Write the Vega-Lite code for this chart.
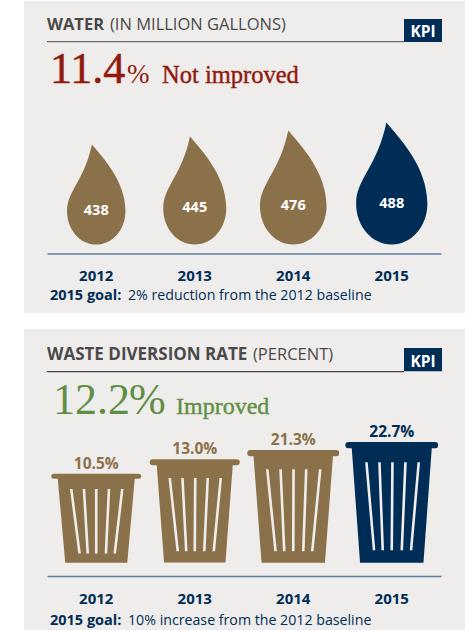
{"$schema":"https://vega.github.io/schema/vega-lite/v6.json","background":"#ffffff","padding":{"left":24,"top":1,"right":0,"bottom":0},"spacing":16,"config":{"view":{"stroke":null},"text":{"font":"Open Sans"}},"vconcat":[
{"width":441,"height":312,"view":{"fill":"#efedeb","stroke":null},"layer":[
{"data":{"values":[{"year":"2012","value":438},{"year":"2013","value":445},{"year":"2014","value":476},{"year":"2015","value":488}]},"layer":[
{"mark":{"type":"point","filled":true,"opacity":1,"shape":"M-.044 -.664C.07 -.53 .29 -.3 .292 0C.292 .19 .16 .336 0 .336C-.16 .336 -.292 .19 -.292 0C-.292 -.2 -.12 -.3 -.044 -.664Z"},"encoding":{
"x":{"field":"year","type":"nominal","scale":{"type":"band","domain":["2012","2013","2014","2015"],"range":[23,417]},"axis":{"title":null,"orient":"bottom","offset":-59.5,"ticks":false,"domainColor":"#5d7d9f","domainWidth":1.3,"labelAngle":0,"labelFont":"Open Sans","labelFontWeight":"bold","labelFontSize":15,"labelColor":"#002d56","labelPadding":15}},
"y":{"field":"value","type":"quantitative","scale":{"domain":[438,445,476,488],"range":[210,207.3,205.2,202.5],"zero":false,"nice":false},"axis":null},
"size":{"field":"value","type":"quantitative","scale":{"domain":[438,445,476,488],"range":[40000,46656,51984,59536],"zero":false,"nice":false},"legend":null},
"color":{"field":"year","type":"nominal","scale":{"domain":["2012","2013","2014","2015"],"range":["#8b7149","#8b7149","#8b7149","#002d56"]},"legend":null}}},
{"mark":{"type":"text","font":"Open Sans","fontWeight":"bold","fontSize":14.5,"fill":"#ffffff","baseline":"middle"},"encoding":{"x":{"field":"year","type":"nominal"},"y":{"field":"value","type":"quantitative"},"text":{"field":"value","type":"nominal"}}}
]},
{"data":{"values":[{"t":"x"}]},"mark":{"type":"rule","color":"#6b6b6b","strokeWidth":1.2},"encoding":{"x":{"value":23},"x2":{"value":380},"y":{"value":40.7}}},
{"data":{"values":[{"t":"x"}]},"mark":{"type":"rect","color":"#002d56"},"encoding":{"x":{"value":380},"x2":{"value":418},"y":{"value":18},"y2":{"value":41}}},
{"data":{"values":[{"t":"KPI"}]},"mark":{"type":"text","font":"Open Sans","fontWeight":"bold","fontSize":15.5,"fill":"#ffffff","align":"center","baseline":"alphabetic"},"encoding":{"x":{"value":399},"y":{"value":35.7},"text":{"field":"t"}}},
{"data":{"values":[{"t":"WATER"}]},"mark":{"type":"text","font":"Open Sans","fontWeight":"bold","fontSize":16.5,"fill":"#4a4a4a","align":"left","baseline":"alphabetic"},"encoding":{"x":{"value":23},"y":{"value":29},"text":{"field":"t"}}},
{"data":{"values":[{"t":"(IN MILLION GALLONS)"}]},"mark":{"type":"text","font":"Open Sans","fontSize":16.5,"fill":"#4a4a4a","align":"left","baseline":"alphabetic"},"encoding":{"x":{"value":86},"y":{"value":29},"text":{"field":"t"}}},
{"data":{"values":[{"t":"11.4"}]},"mark":{"type":"text","font":"Liberation Serif","fontSize":44,"fill":"#8f1a0e","stroke":"#8f1a0e","strokeWidth":0.5,"align":"left","baseline":"alphabetic"},"encoding":{"x":{"value":26},"y":{"value":82},"text":{"field":"t"}}},
{"data":{"values":[{"t":"%"}]},"mark":{"type":"text","font":"Liberation Serif","fontSize":27,"fill":"#8f1a0e","align":"left","baseline":"alphabetic"},"encoding":{"x":{"value":103},"y":{"value":82},"text":{"field":"t"}}},
{"data":{"values":[{"t":"Not improved"}]},"mark":{"type":"text","font":"Liberation Serif","fontSize":24.5,"fill":"#8f1a0e","stroke":"#8f1a0e","strokeWidth":0.4,"align":"left","baseline":"alphabetic"},"encoding":{"x":{"value":138},"y":{"value":82},"text":{"field":"t"}}},
{"data":{"values":[{"t":"2015 goal:"}]},"mark":{"type":"text","font":"Open Sans","fontWeight":"bold","fontSize":14.5,"fill":"#002d56","align":"left","baseline":"alphabetic"},"encoding":{"x":{"value":26},"y":{"value":299},"text":{"field":"t"}}},
{"data":{"values":[{"t":"2% reduction from the 2012 baseline"}]},"mark":{"type":"text","font":"Open Sans","fontSize":14.2,"fill":"#002d56","align":"left","baseline":"alphabetic"},"encoding":{"x":{"value":104},"y":{"value":299},"text":{"field":"t"}}}
]},
{"width":441,"height":301,"view":{"fill":"#efedeb","stroke":null},"layer":[
{"data":{"values":[{"year":"2012","value":10.5,"label":"10.5%"},{"year":"2013","value":13.0,"label":"13.0%"},{"year":"2014","value":21.3,"label":"21.3%"},{"year":"2015","value":22.7,"label":"22.7%"}]},"layer":[
{"mark":{"type":"point","filled":true,"opacity":1,"size":4},"encoding":{
"x":{"field":"year","type":"nominal","scale":{"type":"band","domain":["2012","2013","2014","2015"],"range":[23,417]},"axis":{"title":null,"orient":"bottom","offset":-54,"ticks":false,"domainColor":"#5d7d9f","domainWidth":1.3,"labelAngle":0,"labelFont":"Open Sans","labelFontWeight":"bold","labelFontSize":15,"labelColor":"#002d56","labelPadding":15}},
"y":{"field":"value","type":"quantitative","scale":{"domain":[10.5,13,21.3,22.7],"range":[144.7,130.3,121,113],"zero":false,"nice":false},"axis":null},
"shape":{"field":"year","type":"nominal","scale":{"domain":["2012","2013","2014","2015"],"range":[
"M-42 0H42Q45 0 45 2.5Q45 5 42 5H38.5L31 89H-31L-38.5 5H-42Q-45 5 -45 2.5Q-45 0 -42 0ZM-26.3 15.3L-18 79.7H-15.4L-23.7 15.3ZM-13.6 15.3L-9.8 79.7H-7.2L-11 15.3ZM-1.3 15.3L-1.3 79.7H1.3L1.3 15.3ZM11.4 15.3L8.4 79.7H11L14 15.3ZM24.7 15.3L17.2 79.7H19.8L27.3 15.3Z",
"M-42 0H42Q45 0 45 3Q45 6 42 6H38L30.7 103.3H-30.7L-38 6H-42Q-45 6 -45 3Q-45 0 -42 0ZM-26.3 18.7L-18.3 92H-15.7L-23.7 18.7ZM-13.6 18.7L-9.8 92H-7.2L-11 18.7ZM-.8 18.7L-1.3 92H1.3L1.8 18.7ZM11.7 18.7L8.2 92H10.8L14.3 18.7ZM24.7 18.7L17.7 92H20.3L27.3 18.7Z",
"M-43 0H43Q46 0 46 3.1Q46 6.3 43 6.3H39.7L31.7 112.7H-31.7L-39.7 6.3H-43Q-46 6.3 -46 3.1Q-46 0 -43 0ZM-27.3 19.3L-19 101.3H-16.4L-24.7 19.3ZM-14 19.3L-10.3 101.3H-7.7L-11.4 19.3ZM-1 19.3L-1.3 101.3H1.3L1.6 19.3ZM11.7 19.3L8.7 101.3H11.3L14.3 19.3ZM25.7 19.3L17.7 101.3H20.3L28.3 19.3Z",
"M-43.4 0H43.4Q46.4 0 46.4 3.1Q46.4 6.3 43.4 6.3H40L31.7 120.7H-31.7L-40 6.3H-43.4Q-46.4 6.3 -46.4 3.1Q-46.4 0 -43.4 0ZM-26.6 20.3L-19 108.3H-16.4L-24 20.3ZM-13.6 20.3L-10.3 108.3H-7.7L-11 20.3ZM-.6 20.3L-1.3 108.3H1.3L2 20.3ZM12.4 20.3L8.7 108.3H11.3L15 20.3ZM25.7 20.3L18 108.3H20.6L28.3 20.3Z"
]},"legend":null},
"color":{"field":"year","type":"nominal","scale":{"domain":["2012","2013","2014","2015"],"range":["#8b7149","#8b7149","#8b7149","#002d56"]},"legend":null}}},
{"mark":{"type":"text","font":"Open Sans","fontWeight":"bold","fontSize":15.5,"baseline":"middle","dy":-10},"encoding":{"x":{"field":"year","type":"nominal"},"y":{"field":"value","type":"quantitative"},"text":{"field":"label"},"color":{"field":"year","type":"nominal"}}}
]},
{"data":{"values":[{"t":"x"}]},"mark":{"type":"rule","color":"#444444","strokeWidth":1.2},"encoding":{"x":{"value":23},"x2":{"value":380},"y":{"value":42.7}}},
{"data":{"values":[{"t":"x"}]},"mark":{"type":"rect","color":"#002d56"},"encoding":{"x":{"value":380},"x2":{"value":418},"y":{"value":19},"y2":{"value":42.3}}},
{"data":{"values":[{"t":"KPI"}]},"mark":{"type":"text","font":"Open Sans","fontWeight":"bold","fontSize":15.5,"fill":"#ffffff","align":"center","baseline":"alphabetic"},"encoding":{"x":{"value":399},"y":{"value":37.7},"text":{"field":"t"}}},
{"data":{"values":[{"t":"WASTE DIVERSION RATE"}]},"mark":{"type":"text","font":"Open Sans","fontWeight":"bold","fontSize":17,"fill":"#4a4a4a","align":"left","baseline":"alphabetic"},"encoding":{"x":{"value":23},"y":{"value":31},"text":{"field":"t"}}},
{"data":{"values":[{"t":"(PERCENT)"}]},"mark":{"type":"text","font":"Open Sans","fontSize":16.5,"fill":"#4a4a4a","align":"left","baseline":"alphabetic"},"encoding":{"x":{"value":229},"y":{"value":31},"text":{"field":"t"}}},
{"data":{"values":[{"t":"12.2"}]},"mark":{"type":"text","font":"Liberation Serif","fontSize":44,"fill":"#5f8f45","align":"left","baseline":"alphabetic"},"encoding":{"x":{"value":29},"y":{"value":85.3},"text":{"field":"t"}}},
{"data":{"values":[{"t":"%"}]},"mark":{"type":"text","font":"Liberation Serif","fontSize":44,"fill":"#5f8f45","align":"left","baseline":"alphabetic"},"encoding":{"x":{"value":105},"y":{"value":85.3},"text":{"field":"t"}}},
{"data":{"values":[{"t":"Improved"}]},"mark":{"type":"text","font":"Liberation Serif","fontSize":24,"fill":"#5f8f45","stroke":"#5f8f45","strokeWidth":0.4,"align":"left","baseline":"alphabetic"},"encoding":{"x":{"value":152},"y":{"value":85.3},"text":{"field":"t"}}},
{"data":{"values":[{"t":"2015 goal:"}]},"mark":{"type":"text","font":"Open Sans","fontWeight":"bold","fontSize":14.5,"fill":"#002d56","align":"left","baseline":"alphabetic"},"encoding":{"x":{"value":26},"y":{"value":296},"text":{"field":"t"}}},
{"data":{"values":[{"t":"10% increase from the 2012 baseline"}]},"mark":{"type":"text","font":"Open Sans","fontSize":14.2,"fill":"#002d56","align":"left","baseline":"alphabetic"},"encoding":{"x":{"value":104},"y":{"value":296},"text":{"field":"t"}}}
]}
]}
